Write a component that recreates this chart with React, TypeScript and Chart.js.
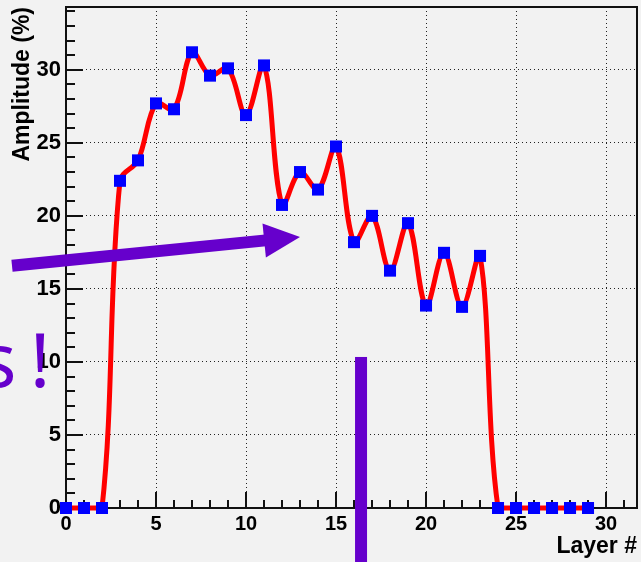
import { useEffect, useRef } from "react";
import { Chart, registerables } from "chart.js";

Chart.register(...registerables);

// ---- data ----
const LAYERS = [0, 1, 2, 3, 4, 5, 6, 7, 8, 9, 10, 11, 12, 13, 14, 15, 16, 17, 18, 19, 20, 21, 22, 23, 24, 25, 26, 27, 28, 29];
const AMPLITUDE = [0, 0, 0, 22.4, 23.8, 27.7, 27.3, 31.2, 29.6, 30.1, 26.9, 30.3, 20.75, 23.0, 21.8, 24.75, 18.2, 20.0, 16.25, 19.5, 13.86, 17.47, 13.77, 17.26, 0, 0, 0, 0, 0, 0];

const X_MIN = 0;
const X_MAX = 31.72;
const Y_MIN = 0;
const Y_MAX = 34.3;
const X_STEP = 5;
const Y_STEP = 5;
const X_TITLE = "Layer #";
const Y_TITLE = "Amplitude (%)";

// ---- hand-drawn overlay (data coordinates) ----
const ARROW_FROM = { x: -3.0, y: 16.58 };
const ARROW_TO = { x: 13.0, y: 18.56 };
const BAR_X = 16.39;
const BAR_TOP = 10.34;
const NOTES = [
  { text: "s", x: -2.75, y: 8.29, align: "right" },
  { text: "!", x: -1.44, y: 8.29, align: "center" },
];

const FONT = '"Liberation Sans", Arial, Helvetica, sans-serif';
const PURPLE = "#6600cc";

const rootAxesPlugin = {
  id: "rootAxes",
  beforeDatasetsDraw(chart: any) {
    const { ctx, chartArea: a, scales } = chart;
    const x = scales.x;
    const y = scales.y;
    ctx.save();
    ctx.strokeStyle = "#111";
    ctx.lineWidth = 2;
    ctx.strokeRect(a.left, a.top, a.right - a.left, a.bottom - a.top);
    ctx.beginPath();
    for (let v = Math.ceil(X_MIN); v <= X_MAX; v += 1) {
      const px = Math.round(x.getPixelForValue(v));
      const len = v % X_STEP === 0 ? 16 : 8;
      ctx.moveTo(px, a.bottom);
      ctx.lineTo(px, a.bottom - len);
    }
    for (let v = Math.ceil(Y_MIN); v <= Y_MAX; v += 1) {
      const py = Math.round(y.getPixelForValue(v));
      const len = v % Y_STEP === 0 ? 17 : 9;
      ctx.moveTo(a.left, py);
      ctx.lineTo(a.left + len, py);
    }
    ctx.stroke();
    ctx.restore();
  },
};

const overlayPlugin = {
  id: "overlay",
  afterDraw(chart: any) {
    const { ctx, scales } = chart;
    const x = scales.x;
    const y = scales.y;
    ctx.save();
    ctx.fillStyle = PURPLE;
    ctx.strokeStyle = PURPLE;
    // arrow
    const x1 = x.getPixelForValue(ARROW_FROM.x);
    const y1 = y.getPixelForValue(ARROW_FROM.y);
    const x2 = x.getPixelForValue(ARROW_TO.x);
    const y2 = y.getPixelForValue(ARROW_TO.y);
    const ang = Math.atan2(y2 - y1, x2 - x1);
    const headLen = 36;
    const headHalf = 17;
    const bx = x2 - headLen * Math.cos(ang);
    const by = y2 - headLen * Math.sin(ang);
    ctx.lineWidth = 12;
    ctx.lineCap = "butt";
    ctx.beginPath();
    ctx.moveTo(x1, y1);
    ctx.lineTo(bx + 4 * Math.cos(ang), by + 4 * Math.sin(ang));
    ctx.stroke();
    ctx.beginPath();
    ctx.moveTo(x2, y2);
    ctx.lineTo(bx - headHalf * Math.sin(ang), by + headHalf * Math.cos(ang));
    ctx.lineTo(bx + headHalf * Math.sin(ang), by - headHalf * Math.cos(ang));
    ctx.closePath();
    ctx.fill();
    // vertical bar
    const vx = x.getPixelForValue(BAR_X);
    const vy = y.getPixelForValue(BAR_TOP);
    ctx.fillRect(vx - 6, vy, 12, chart.height - vy);
    // notes
    ctx.font = '75px "Noto Sans", "DejaVu Sans", sans-serif';
    ctx.textBaseline = "alphabetic";
    for (const n of NOTES) {
      ctx.textAlign = n.align as CanvasTextAlign;
      ctx.fillText(n.text, x.getPixelForValue(n.x), y.getPixelForValue(n.y));
    }
    ctx.restore();
  },
};

export default function App() {
  const ref = useRef<HTMLCanvasElement | null>(null);

  useEffect(() => {
    document.body.style.margin = "0";
    const canvas = ref.current;
    if (!canvas) return;
    const chart = new Chart(canvas, {
      type: "line",
      data: {
        datasets: [
          {
            data: LAYERS.map((l, i) => ({ x: l, y: AMPLITUDE[i] })),
            borderColor: "#ff0000",
            borderWidth: 5,
            tension: 0.35,
            pointStyle: "rect",
            pointRadius: 8.5,
            pointHoverRadius: 8.5,
            pointBackgroundColor: "#0000ff",
            pointBorderColor: "#0000ff",
            pointBorderWidth: 0,
            clip: false as any,
          },
        ],
      },
      options: {
        responsive: false,
        animation: false,
        events: [],
        layout: { autoPadding: false, padding: { top: 7, right: 4, left: 0, bottom: 0 } },
        plugins: {
          legend: { display: false },
          tooltip: { enabled: false },
        },
        scales: {
          x: {
            type: "linear",
            min: X_MIN,
            max: X_MAX,
            afterFit: (s: any) => {
              s.height = 54;
              s.paddingLeft = 0;
              s.paddingRight = 0;
            },
            ticks: {
              stepSize: X_STEP,
              includeBounds: false,
              padding: 4,
              color: "#000",
              maxRotation: 0,
              autoSkip: false,
              font: { family: FONT, size: 20, weight: "bold" },
            },
            grid: { color: "#222", lineWidth: 1, drawTicks: false },
            border: { display: false, dash: [1, 3] },
            title: {
              display: true,
              text: X_TITLE,
              align: "end",
              color: "#000",
              font: { family: FONT, size: 23, weight: "bold" },
              padding: { top: 0, bottom: 2 },
            },
          },
          y: {
            type: "linear",
            min: Y_MIN,
            max: Y_MAX,
            afterFit: (s: any) => {
              s.width = 66;
              s.paddingTop = 0;
              s.paddingBottom = 0;
            },
            ticks: {
              stepSize: Y_STEP,
              includeBounds: false,
              padding: 5,
              color: "#000",
              font: { family: FONT, size: 22, weight: "bold" },
            },
            grid: { color: "#222", lineWidth: 1, drawTicks: false },
            border: { display: false, dash: [1, 3] },
            title: {
              display: true,
              text: Y_TITLE,
              align: "end",
              color: "#000",
              font: { family: FONT, size: 23, weight: "bold" },
              padding: { top: 9, bottom: 0 },
            },
          },
        },
      } as any,
      plugins: [rootAxesPlugin, overlayPlugin],
    });
    return () => chart.destroy();
  }, []);

  return (
    <div
      style={{
        position: "absolute",
        left: 0,
        top: 0,
        width: 641,
        height: 562,
        background: "#f2f2f2",
        overflow: "hidden",
      }}
    >
      <canvas ref={ref} width={641} height={562} style={{ display: "block" }} />
    </div>
  );
}
